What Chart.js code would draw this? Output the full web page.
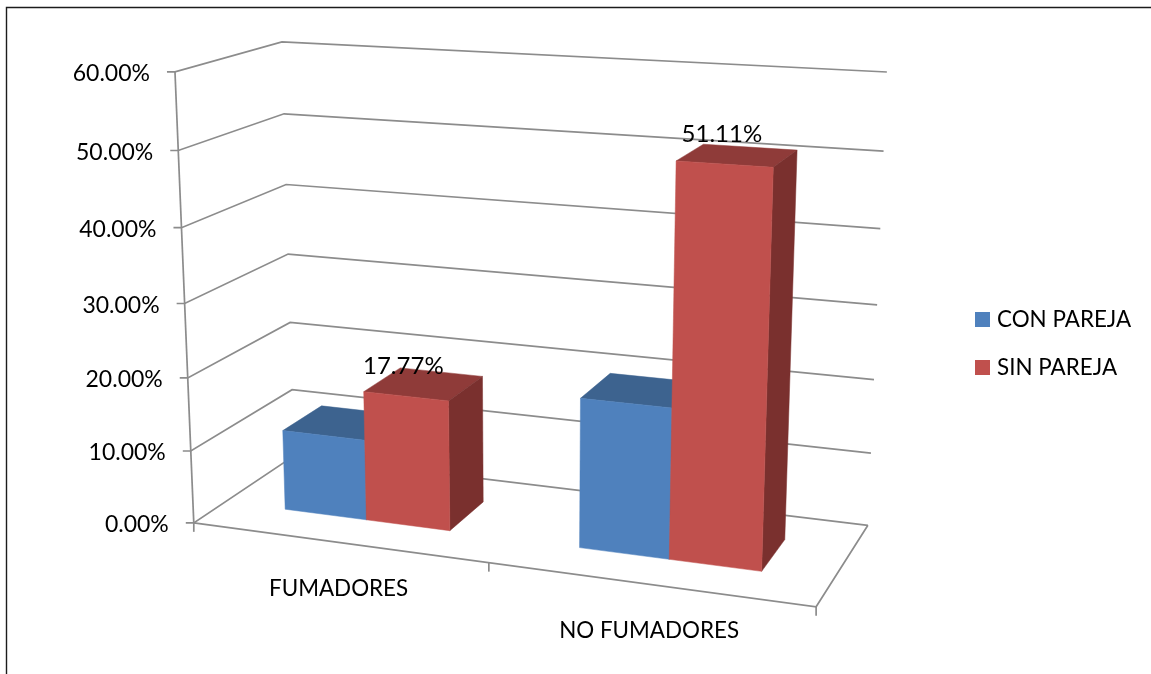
<!DOCTYPE html>
<html>
<head>
<meta charset="utf-8">
<style>html,body{margin:0;padding:0;background:#fff}canvas{display:block}</style>
<script src="https://cdn.jsdelivr.net/npm/chart.js@4/dist/chart.umd.js"></script>
</head>
<body>
<canvas id="c" width="1151" height="674"></canvas>
<script>
// Smoking status by partner status, drawn as a 3D column chart.
const categories = ['FUMADORES', 'NO FUMADORES'];
const conPareja = [11.11, 20.00];
const sinPareja = [17.77, 51.11];
const seriesNames = ['CON PAREJA', 'SIN PAREJA'];
const yTicks = [0, 10, 20, 30, 40, 50, 60];

const FONT = 'Lato, Carlito, sans-serif';
const TEXT = '#000';
const GRID = '#8c8c8c';
const BAR_DEPTH = [0.3, 0.7];

// Box corners (x, value, depth in 0..1) and where the camera puts them on the canvas.
const calibration = [
  [0, 0, 0, 194, 523], [0, 1, 0, 175, 72], [0, .5, 0, 184.5, 303],
  [0, 0, 1, 294, 456], [0, 1, 1, 282, 42], [0, .5, 1, 288, 254],
  [1, 0, 1, 868, 525], [1, 1, 1, 887, 72], [1, .5, 1, 877, 305],
  [1, 0, 0, 816, 607]
];

// Least-squares fit of a 3x4 projective camera.
function fitCamera(rows) {
  const n = 11, A = Array.from({length: n}, () => new Array(n + 1).fill(0));
  const add = (r, b) => {
    for (let i = 0; i < n; i++) {
      for (let j = 0; j < n; j++) A[i][j] += r[i] * r[j];
      A[i][n] += r[i] * b;
    }
  };
  for (const [X, Y, Z, u, v] of rows) {
    add([X, Y, Z, 1, 0, 0, 0, 0, -u * X, -u * Y, -u * Z], u);
    add([0, 0, 0, 0, X, Y, Z, 1, -v * X, -v * Y, -v * Z], v);
  }
  for (let c = 0; c < n; c++) {
    let p = c;
    for (let r = c + 1; r < n; r++) if (Math.abs(A[r][c]) > Math.abs(A[p][c])) p = r;
    [A[c], A[p]] = [A[p], A[c]];
    for (let r = 0; r < n; r++) {
      if (r === c) continue;
      const f = A[r][c] / A[c][c];
      for (let k = c; k <= n; k++) A[r][k] -= f * A[c][k];
    }
  }
  return A.map((row, i) => row[n] / row[i]);
}
const cam = fitCamera(calibration);
function project(X, Y, Z) {
  const w = cam[8] * X + cam[9] * Y + cam[10] * Z + 1;
  return [(cam[0] * X + cam[1] * Y + cam[2] * Z + cam[3]) / w,
          (cam[4] * X + cam[5] * Y + cam[6] * Z + cam[7]) / w];
}

// Canvas pixels of the flat chart area to normalised box coordinates.
const normX = (chart, px) => (px - chart.chartArea.left) / (chart.chartArea.right - chart.chartArea.left);
const normY = (chart, px) => (chart.chartArea.bottom - px) / (chart.chartArea.bottom - chart.chartArea.top);

function poly(ctx, pts, fill) {
  ctx.beginPath();
  pts.forEach((p, i) => i ? ctx.lineTo(p[0], p[1]) : ctx.moveTo(p[0], p[1]));
  ctx.closePath();
  ctx.fillStyle = fill;
  ctx.fill();
  ctx.strokeStyle = fill;
  ctx.lineWidth = 0.5;
  ctx.stroke();
}
function path(ctx, pts) {
  ctx.beginPath();
  pts.forEach((p, i) => i ? ctx.lineTo(p[0], p[1]) : ctx.moveTo(p[0], p[1]));
  ctx.stroke();
}

// Bar controller whose elements are lit boxes; the walls plugin paints them
// series by series so that later series sit in front of earlier ones.
class Bar3DController extends Chart.BarController {
  draw() {}
  drawBoxes() {
    const chart = this.chart, ctx = chart.ctx, meta = this._cachedMeta;
    const ds = this.getDataset();
    const [z0, z1] = BAR_DEPTH;
    meta.data.forEach(el => {
      const x0 = normX(chart, el.x - el.width / 2), x1 = normX(chart, el.x + el.width / 2);
      const b = normY(chart, el.base), t = normY(chart, el.y);
      poly(ctx, [project(x0, t, z0), project(x1, t, z0), project(x1, t, z1), project(x0, t, z1)], ds.topColor);
      poly(ctx, [project(x1, b, z0), project(x1, t, z0), project(x1, t, z1), project(x1, b, z1)], ds.sideColor);
      poly(ctx, [project(x0, b, z0), project(x1, b, z0), project(x1, t, z0), project(x0, t, z0)], ds.backgroundColor);
    });
  }
}
Bar3DController.id = 'bar3d';
Bar3DController.defaults = Chart.BarController.defaults;
Bar3DController.overrides = Chart.BarController.overrides;
Chart.register(Bar3DController);

const walls = {
  id: 'walls',
  beforeDatasetsDraw(chart) {
    const ctx = chart.ctx, y = chart.scales.y, x = chart.scales.x;
    ctx.save();
    // Frame edges along the top and left of the page.
    ctx.strokeStyle = '#1c1c1c';
    ctx.lineWidth = 1.4;
    path(ctx, [[6.5, 674], [6.5, 7.5], [1151, 7.5]]);

    ctx.strokeStyle = GRID;
    ctx.lineWidth = 1.7;
    ctx.font = '23px ' + FONT;
    ctx.fillStyle = TEXT;
    ctx.textAlign = 'right';
    ctx.textBaseline = 'middle';
    y.ticks.forEach(tick => {
      const v = normY(chart, y.getPixelForValue(tick.value));
      const a = project(0, v, 0);
      path(ctx, [[a[0] - 8, a[1]], a, project(0, v, 1), project(1, v, 1)]);
      ctx.fillText(tick.label, a[0] - 25, a[1] + 2);
    });
    // Vertical axis and floor outline.
    path(ctx, [project(0, 1, 0), project(0, 0, 0)]);
    path(ctx, [project(0, 0, 0), project(1, 0, 0), project(1, 0, 1)]);
    // Category separators hang below the front edge of the floor.
    const seps = [0, normX(chart, (x.getPixelForValue(0) + x.getPixelForValue(1)) / 2), 1];
    seps.forEach(u => {
      const p = project(u, 0, 0);
      path(ctx, [p, [p[0], p[1] + 9]]);
    });
    ctx.font = '22.4px ' + FONT;
    ctx.textAlign = 'center';
    categories.forEach((name, i) => {
      const p = project(normX(chart, x.getPixelForValue(i)), 0, 0);
      ctx.fillText(name, p[0] + 1, p[1] + 47);
    });
    ctx.restore();
  },
  afterDatasetsDraw(chart) {
    const ctx = chart.ctx;
    chart.data.datasets.forEach((ds, i) => chart.getDatasetMeta(i).controller.drawBoxes());
    ctx.save();
    // Value labels on the second series only.
    const meta = chart.getDatasetMeta(1);
    ctx.font = '24px ' + FONT;
    ctx.fillStyle = TEXT;
    ctx.textAlign = 'center';
    ctx.textBaseline = 'middle';
    meta.data.forEach((el, i) => {
      const p = project(normX(chart, el.x), normY(chart, el.y), BAR_DEPTH[0]);
      ctx.fillText(sinPareja[i].toFixed(2) + '%', p[0] - 2.5, p[1] - 30);
    });
    // Legend.
    ctx.font = '22.4px ' + FONT;
    chart.data.datasets.forEach((ds, i) => {
      const top = 312 + i * 48;
      ctx.fillStyle = ds.backgroundColor;
      ctx.fillRect(975, top, 15, 15);
      ctx.fillStyle = TEXT;
      ctx.textAlign = 'left';
      ctx.fillText(ds.label, 997, top + 7.5);
    });
    ctx.restore();
  }
};

new Chart(document.getElementById('c'), {
  type: 'bar3d',
  data: {
    labels: categories,
    datasets: [
      {label: seriesNames[0], data: conPareja, backgroundColor: '#4F81BD', topColor: '#3D638F', sideColor: '#345578'},
      {label: seriesNames[1], data: sinPareja, backgroundColor: '#C0504D', topColor: '#8F3B39', sideColor: '#7A302E'}
    ]
  },
  options: {
    responsive: false,
    animation: false,
    layout: {padding: 0},
    categoryPercentage: 4 / 7,
    barPercentage: 1,
    plugins: {legend: {display: false}, tooltip: {enabled: false}},
    scales: {
      x: {type: 'category', display: false, offset: true},
      y: {
        type: 'linear', display: false, min: 0, max: 60,
        afterBuildTicks(axis) { axis.ticks = yTicks.map(value => ({value})); },
        ticks: {callback: v => v.toFixed(2) + '%'}
      }
    }
  },
  plugins: [walls]
});
</script>
</body>
</html>
